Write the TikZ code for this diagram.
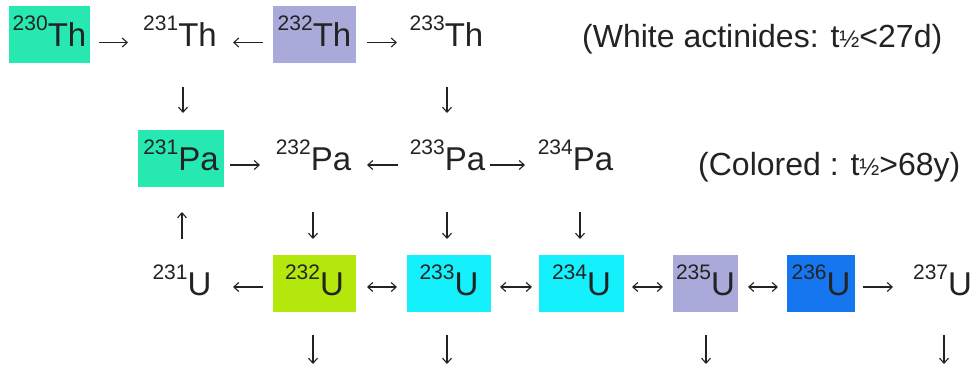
\documentclass[tikz,border=0pt]{standalone}
\usepackage{fontspec}
\setmainfont{Liberation Sans}
\usetikzlibrary{arrows.meta}
\definecolor{cgreen}{RGB}{38,232,176}
\definecolor{clav}{RGB}{170,170,218}
\definecolor{cyell}{RGB}{180,232,12}
\definecolor{ccyan}{RGB}{20,240,252}
\definecolor{cblue}{RGB}{22,118,240}
\definecolor{txt}{RGB}{35,35,35}
\newcommand{\nuc}[2]{{\fontsize{21}{21}\selectfont\raisebox{16pt}{#1}}#2}
\newcommand{\half}{{\fontsize{24}{24}\selectfont ½}}
\begin{document}
\begin{tikzpicture}[x=1pt,y=-1pt,
  nuclide/.style={inner sep=0pt, text height=26pt, text depth=2pt,
    font=\fontsize{33}{36}\selectfont, text=txt, minimum height=57pt},
  boxed/.style={nuclide, fill=#1},
  legend/.style={inner sep=0pt, anchor=base west, text=txt, font=\fontsize{32}{36}\selectfont},
  arr/.style={draw=txt, line width=1.1pt, -{Straight Barb[length=5pt,width=9pt]}},
  darr/.style={draw=txt, line width=1.1pt, {Straight Barb[length=5pt,width=9pt]}-{Straight Barb[length=5pt,width=9pt]}}]
\useasboundingbox (0,0) rectangle (977,367);
% row 1
\node[boxed=cgreen, minimum width=81pt] (th230) at (49.5,34) {\nuc{230}{Th}};
\node[nuclide] (th231) at (180,34) {\nuc{231}{Th}};
\node[boxed=clav, minimum width=83pt] (th232) at (314.5,34) {\nuc{232}{Th}};
\node[nuclide] (th233) at (446.5,34) {\nuc{233}{Th}};
\node[legend] (leg1) at (582,47) {(White actinides: t\half<27d)};
% row 2
\node[boxed=cgreen, minimum width=86pt] (pa231) at (181,158.5) {\nuc{231}{Pa}};
\node[nuclide] (pa232) at (313.5,158.5) {\nuc{232}{Pa}};
\node[nuclide] (pa233) at (447.5,158.5) {\nuc{233}{Pa}};
\node[nuclide] (pa234) at (575.5,158.5) {\nuc{234}{Pa}};
\node[legend] (leg2) at (698,175) {(Colored : t\half>68y)};
% row 3
\node[nuclide] (u231) at (182,283.5) {\nuc{231}{U}};
\node[boxed=cyell, minimum width=83pt] (u232) at (314.5,283.5) {\nuc{232}{U}};
\node[boxed=ccyan, minimum width=84pt] (u233) at (449,283.5) {\nuc{233}{U}};
\node[boxed=ccyan, minimum width=85pt] (u234) at (581.5,283.5) {\nuc{234}{U}};
\node[boxed=clav, minimum width=65pt] (u235) at (705.5,283.5) {\nuc{235}{U}};
\node[boxed=cblue, minimum width=68pt] (u236) at (821,283.5) {\nuc{236}{U}};
\node[nuclide] (u237) at (942.5,283.5) {\nuc{237}{U}};
% free ends of the bottom arrows
\coordinate (d232) at (313,364);
\coordinate (d233) at (447,364);
\coordinate (d235) at (706,364);
\coordinate (d237) at (944,364);
% row 1 horizontal arrows (y = 42.5)
\draw[arr] ([xshift=49.5pt,yshift=-8.5pt]th230.center) -- ([xshift=-52pt,yshift=-8.5pt]th231.center);
\draw[arr] ([xshift=-51.5pt,yshift=-8.5pt]th232.center) -- ([xshift=53pt,yshift=-8.5pt]th231.center);
\draw[arr] ([xshift=52.5pt,yshift=-8.5pt]th232.center) -- ([xshift=-49.5pt,yshift=-8.5pt]th233.center);
% row 1 -> row 2
\draw[arr] ([xshift=3pt,yshift=-53pt]th231.center) -- ([xshift=2pt,yshift=45.5pt]pa231.center);
\draw[arr] ([xshift=0.5pt,yshift=-53pt]th233.center) -- ([xshift=-0.5pt,yshift=45.5pt]pa233.center);
% row 2 horizontal arrows (y = 165)
\draw[arr] ([xshift=49pt,yshift=-6.5pt]pa231.center) -- ([xshift=-53.5pt,yshift=-6.5pt]pa232.center);
\draw[arr] ([xshift=-49.5pt,yshift=-6.5pt]pa233.center) -- ([xshift=53.5pt,yshift=-6.5pt]pa232.center);
\draw[arr] ([xshift=42.5pt,yshift=-6.5pt]pa233.center) -- ([xshift=-50.5pt,yshift=-6.5pt]pa234.center);
% row 2 -> row 3
\draw[arr] ([yshift=44.5pt]u231.center) -- ([xshift=1pt,yshift=-53.5pt]pa231.center);
\draw[arr] ([xshift=-0.5pt,yshift=-53.5pt]pa232.center) -- ([xshift=-1.5pt,yshift=44.5pt]u232.center);
\draw[arr] ([xshift=-0.5pt,yshift=-53.5pt]pa233.center) -- ([xshift=-2pt,yshift=44.5pt]u233.center);
\draw[arr] ([xshift=4.5pt,yshift=-53.5pt]pa234.center) -- ([xshift=-1.5pt,yshift=44.5pt]u234.center);
% row 3 horizontal arrows (y = 287)
\draw[arr] ([xshift=-51.5pt,yshift=-3.5pt]u232.center) -- ([xshift=51pt,yshift=-3.5pt]u231.center);
\draw[darr] ([xshift=52.5pt,yshift=-3.5pt]u232.center) -- ([xshift=-52pt,yshift=-3.5pt]u233.center);
\draw[darr] ([xshift=51pt,yshift=-3.5pt]u233.center) -- ([xshift=-49.5pt,yshift=-3.5pt]u234.center);
\draw[darr] ([xshift=50.5pt,yshift=-3.5pt]u234.center) -- ([xshift=-42.5pt,yshift=-3.5pt]u235.center);
\draw[darr] ([xshift=42.5pt,yshift=-3.5pt]u235.center) -- ([xshift=-43pt,yshift=-3.5pt]u236.center);
\draw[arr] ([xshift=42pt,yshift=-3.5pt]u236.center) -- ([xshift=-49.5pt,yshift=-3.5pt]u237.center);
% row 3 down arrows
\draw[arr] ([xshift=-1.5pt,yshift=-51.5pt]u232.center) -- (d232);
\draw[arr] ([xshift=-2pt,yshift=-51.5pt]u233.center) -- (d233);
\draw[arr] ([xshift=0.5pt,yshift=-51.5pt]u235.center) -- (d235);
\draw[arr] ([xshift=1.5pt,yshift=-51.5pt]u237.center) -- (d237);
\end{tikzpicture}
\end{document}
